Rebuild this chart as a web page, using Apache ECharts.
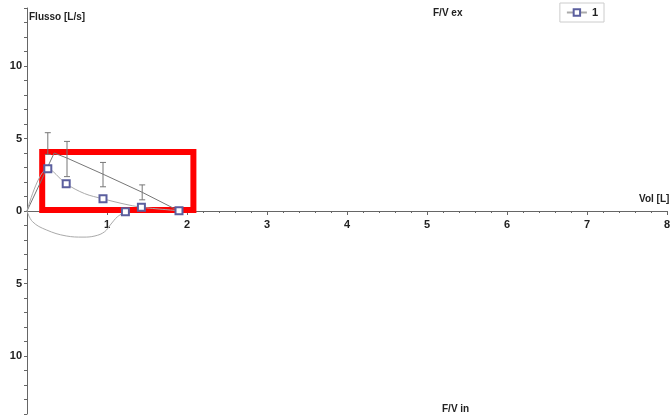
<!DOCTYPE html>
<html>
<head>
<meta charset="utf-8">
<script src="https://cdn.jsdelivr.net/npm/echarts@6/dist/echarts.min.js"></script>
<style>html,body{margin:0;padding:0;background:#fff}#c{width:671px;height:417px}</style>
</head>
<body>
<div id="c"></div>
<script>
// Predicted expiratory line (volume L, flow L/s)
const predVol  = [0, 0.34, 0.50, 0.95, 1.44, 1.90];
const predFlow = [0, 4.00, 3.65, 2.54, 1.29, 0.00];
// Error bars around predicted
const errVol  = [0.26, 0.50, 0.95, 1.44];
const errLow  = [3.90, 2.37, 1.67, 0.77];
const errHigh = [5.40, 4.80, 3.35, 1.80];
// Measured curve "1" – expiratory part
const expVol  = [0, 0.26, 0.49, 0.72, 0.95, 1.20, 1.43, 1.90];
const expFlow = [0, 2.92, 1.88, 1.20, 0.84, 0.50, 0.26, 0.02];
const expMark = [false, true, true, false, true, false, true, true];
// Measured curve "1" – inspiratory part (negative flow)
const insVol  = [0, 0.07, 0.24, 0.49, 0.70, 0.85, 0.97, 1.05, 1.13, 1.23];
const insFlow = [0, -0.74, -1.30, -1.72, -1.80, -1.72, -1.43, -0.90, -0.40, -0.06];
const insMark = [false, false, false, false, false, false, false, false, false, true];
// Highlight box (data coords)
const boxVol  = [0.19, 2.08];
const boxFlow = [0.07, 4.07];
// Axis
const xMin = 0, xMax = 8, yMin = -14, yMax = 14;

const chart = echarts.init(document.getElementById('c'), null, {renderer: 'canvas'});
const FONT = 'Liberation Sans, Arial, sans-serif';
const axisCol = '#666';
const blue = '#5b5f9e';
const gridTop = 8, gridBottom = 3, H = 417;
const zeroOffset = -((H - gridBottom) - (gridTop + (H - gridTop - gridBottom) * yMax / (yMax - yMin)));

function pts(xs, ys, marks) {
  return xs.map((x, i) => ({value: [x, ys[i]], symbol: marks && marks[i] ? 'emptyRect' : 'none'}));
}

chart.setOption({
  animation: false,
  backgroundColor: '#fff',
  grid: {left: 27, right: 4, top: gridTop, bottom: gridBottom, containLabel: false, outerBoundsMode: 'none'},
  legend: {
    right: 67, top: 3,
    data: ['1'],
    itemWidth: 20, itemHeight: 8,
    padding: [4, 6, 4, 6],
    borderColor: '#ccc', borderWidth: 1,
    textStyle: {fontFamily: FONT, fontWeight: 'bold', fontSize: 11, color: '#222'}
  },
  xAxis: {
    type: 'value', min: xMin, max: xMax, interval: 1, position: 'bottom', offset: zeroOffset,
    axisLine: {onZero: false, lineStyle: {color: axisCol, width: 1}},
    axisTick: {show: true, length: 4, lineStyle: {color: axisCol}},
    minorTick: {show: true, splitNumber: 5, length: 2, lineStyle: {color: axisCol}},
    splitLine: {show: false},
    axisLabel: {
      margin: 8, fontFamily: FONT, fontWeight: 'bold', fontSize: 11, color: '#222',
      formatter: v => (v === 0 ? '' : String(v)), showMaxLabel: true
    }
  },
  yAxis: {
    type: 'value', min: yMin, max: yMax, interval: 1,
    axisLine: {show: true, onZero: false, lineStyle: {color: axisCol, width: 1}},
    axisTick: {show: true, length: 3, lineStyle: {color: axisCol}},
    splitLine: {show: false},
    axisLabel: {
      margin: 5, fontFamily: FONT, fontWeight: 'bold', fontSize: 11, color: '#222',
      formatter: v => (Math.round(v) % 5 === 0 && Math.abs(v) < 14 ? String(Math.abs(Math.round(v))) : '')
    }
  },
  graphic: [
    {type: 'text', left: 29, top: 12, style: {text: 'Flusso [L/s]', fontFamily: FONT, fontWeight: 'bold', fontSize: 10, fill: '#222'}},
    {type: 'text', left: 433, top: 8, style: {text: 'F/V ex', fontFamily: FONT, fontWeight: 'bold', fontSize: 10, fill: '#222'}},
    {type: 'text', left: 442, top: 404, style: {text: 'F/V in', fontFamily: FONT, fontWeight: 'bold', fontSize: 10, fill: '#222'}},
    {type: 'text', left: 639, top: 194, style: {text: 'Vol [L]', fontFamily: FONT, fontWeight: 'bold', fontSize: 10, fill: '#222'}}
  ],
  series: [
    {
      type: 'line', name: 'pred', data: predVol.map((x, i) => [x, predFlow[i]]),
      symbol: 'none', lineStyle: {color: '#777', width: 1}, z: 2, silent: true
    },
    {
      type: 'custom', name: 'err', z: 3, silent: true,
      data: errVol.map((x, i) => [x, errLow[i], errHigh[i]]),
      renderItem: function (params, api) {
        const x = api.value(0);
        const lo = api.coord([x, api.value(1)]);
        const hi = api.coord([x, api.value(2)]);
        const w = 3;
        const st = {stroke: '#777', lineWidth: 1};
        return {type: 'group', children: [
          {type: 'line', shape: {x1: lo[0], y1: lo[1], x2: hi[0], y2: hi[1]}, style: st},
          {type: 'line', shape: {x1: lo[0] - w, y1: lo[1], x2: lo[0] + w, y2: lo[1]}, style: st},
          {type: 'line', shape: {x1: hi[0] - w, y1: hi[1], x2: hi[0] + w, y2: hi[1]}, style: st}
        ]};
      }
    },
    {
      type: 'line', name: '1', data: pts(expVol, expFlow, expMark), smooth: 0.35,
      symbol: 'emptyRect', symbolSize: 7, showAllSymbol: true,
      itemStyle: {color: blue, borderColor: blue, borderWidth: 1},
      lineStyle: {color: '#aaa', width: 1}, z: 4
    },
    {
      type: 'line', name: '1', data: pts(insVol, insFlow, insMark), smooth: 0.4,
      symbol: 'emptyRect', symbolSize: 7, showAllSymbol: true,
      itemStyle: {color: blue, borderColor: blue, borderWidth: 1},
      lineStyle: {color: '#aaa', width: 1}, z: 4
    },
    {
      type: 'line', name: 'box', data: [], z: 10, silent: true,
      markArea: {
        silent: true,
        itemStyle: {color: 'rgba(0,0,0,0)', borderColor: '#ff0000', borderWidth: 6},
        data: [[{coord: [boxVol[0], boxFlow[1]]}, {coord: [boxVol[1], boxFlow[0]]}]]
      }
    }
  ]
});
</script>
</body>
</html>
